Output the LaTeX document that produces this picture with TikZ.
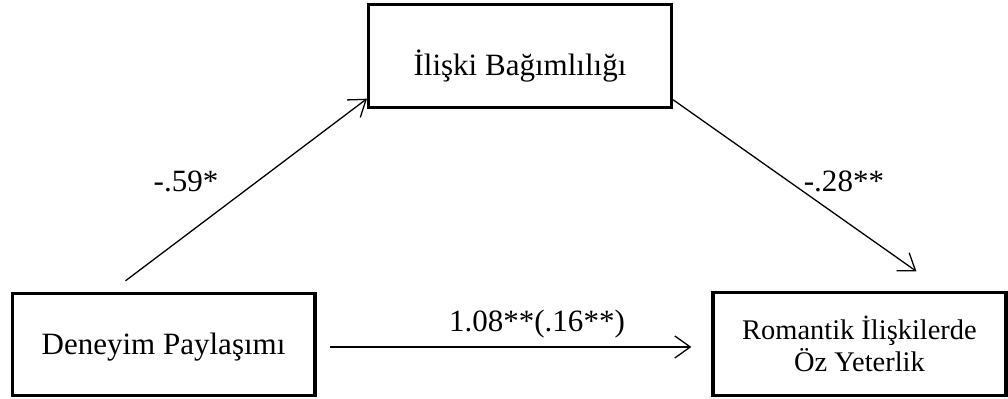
\documentclass[tikz,border=0pt]{standalone}
\usepackage{fontspec}
\setmainfont{Liberation Serif}
\usetikzlibrary{arrows.meta}
\tikzset{
varbox/.style={draw,line width=1.2pt,rectangle,minimum width=4.12cm,minimum height=1.39cm,inner sep=0pt,font=\fontsize{12}{14}\selectfont},
effect/.style={-{Straight Barb[length=6pt,width=8.5pt]},line width=0.5pt},
coef/.style={font=\fontsize{12}{14}\selectfont,inner sep=0pt}
}
\begin{document}
\begin{tikzpicture}
\useasboundingbox(0,0)rectangle(13.709,5.413);
\node[varbox,text height=16pt,text depth=1.3pt](rel)at(7.072,4.651){İlişki Bağımlılığı};
\node[varbox,text height=10pt,text depth=1.9pt](dep)at(2.224,0.728){Deneyim Paylaşımı};
\node[varbox,minimum width=3.985cm,align=center,font=\fontsize{11}{11}\selectfont](oz)at(11.689,0.735){Romantik İlişkilerde\\Öz Yeterlik};
\draw[effect]([shift={(1.564,0.150)}]dep.north west)--([shift={(0,0.136)}]rel.south west);
\draw[effect]([shift={(0,0.122)}]rel.south east)--([shift={(2.788,0.272)}]oz.north west);
\draw[effect]([shift={(0.177,-0.034)}]dep.east)--([shift={(-0.272,-0.041)}]oz.west);
\node[coef](b1)at(2.53,2.951){-.59*};
\node[coef](b2)at(11.478,2.951){-.28**};
\node[coef](b3)at(7.303,1.006){1.08**(.16**)};
\end{tikzpicture}
\end{document}
